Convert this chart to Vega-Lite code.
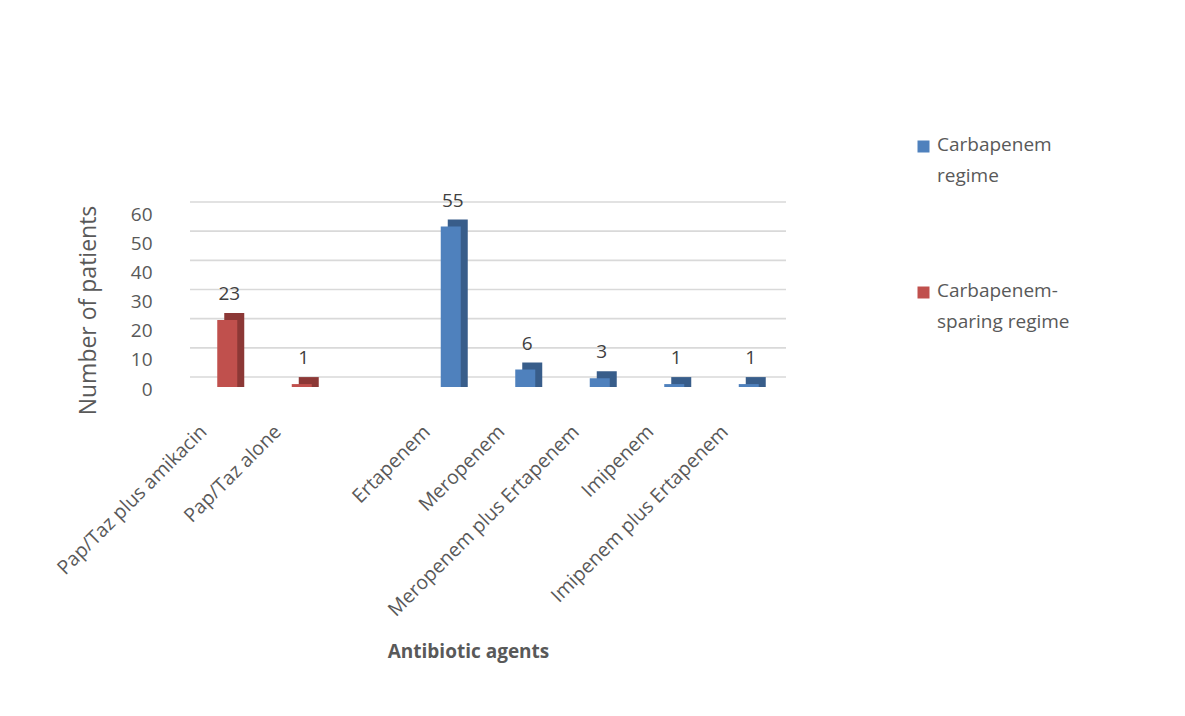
{
  "$schema": "https://vega.github.io/schema/vega-lite/v6.json",
  "width": 596,
  "height": 175,
  "autosize": {"type": "none"},
  "padding": {"left": 190, "top": 212, "right": 399, "bottom": 329},
  "background": "white",
  "config": {
    "view": {"stroke": null},
    "font": "Open Sans",
    "axis": {"labelFont": "Open Sans", "titleFont": "Open Sans", "labelColor": "#595959", "titleColor": "#595959"},
    "axisY": {"labelOverlap": false, "tickCount": 7},
    "legend": {"labelFont": "Open Sans"}
  },
  "datasets": {
    "agents": [
      {"agent": "Pap/Taz plus amikacin", "regime": "Carbapenem-sparing regime", "patients": 23},
      {"agent": "Pap/Taz alone", "regime": "Carbapenem-sparing regime", "patients": 1},
      {"agent": "Ertapenem", "regime": "Carbapenem regime", "patients": 55},
      {"agent": "Meropenem", "regime": "Carbapenem regime", "patients": 6},
      {"agent": "Meropenem plus Ertapenem", "regime": "Carbapenem regime", "patients": 3},
      {"agent": "Imipenem", "regime": "Carbapenem regime", "patients": 1},
      {"agent": "Imipenem plus Ertapenem", "regime": "Carbapenem regime", "patients": 1}
    ],
    "gridlines": [
      {"level": 0}, {"level": 10}, {"level": 20}, {"level": 30},
      {"level": 40}, {"level": 50}, {"level": 60}
    ]
  },
  "layer": [
    {
      "data": {"name": "gridlines"},
      "mark": {"type": "rule", "color": "#D9D9D9", "strokeWidth": 1.6, "yOffset": -10},
      "encoding": {
        "y": {
          "field": "level", "type": "quantitative", "title": "Number of patients",
          "scale": {"domain": [0, 60]},
          "axis": {
            "titleFontSize": 23, "titleFontWeight": "normal",
            "titleX": -102, "titleY": 98, "titleAlign": "center", "titleBaseline": "middle",
            "labelFontSize": 19, "labelPadding": 38, "labelOffset": 2, "labelOverlap": false,
            "values": [0, 10, 20, 30, 40, 50, 60], "tickCount": 7,
            "ticks": false, "domain": false, "grid": false
          }
        }
      }
    },
    {
      "data": {"name": "agents"},
      "mark": {"type": "bar", "width": 20, "xOffset": 7, "yOffset": -7},
      "encoding": {
        "x": {
          "field": "agent", "type": "nominal", "title": "Antibiotic agents",
          "scale": {"domain": ["Pap/Taz plus amikacin", "Pap/Taz alone", " ", "Ertapenem", "Meropenem", "Meropenem plus Ertapenem", "Imipenem", "Imipenem plus Ertapenem"]},
          "axis": {
            "titleFontSize": 19, "titleFontWeight": "bold",
            "titleX": 278, "titleY": 264, "titleBaseline": "middle",
            "labelAngle": -45, "labelFontSize": 19.5, "labelPadding": 35, "labelOffset": -30,
            "ticks": false, "domain": false, "labelLimit": 400
          }
        },
        "y": {"field": "patients", "type": "quantitative", "title": "Number of patients"},
        "y2": {"datum": 0},
        "color": {
          "condition": {"test": "datum.regime === 'Carbapenem regime'", "value": "#385D8A"},
          "value": "#8C3836"
        }
      }
    },
    {
      "data": {"name": "agents"},
      "mark": {"type": "bar", "width": 20},
      "encoding": {
        "x": {"field": "agent", "type": "nominal", "title": "Antibiotic agents"},
        "y": {"field": "patients", "type": "quantitative", "title": "Number of patients"},
        "color": {
          "field": "regime", "type": "nominal",
          "scale": {"domain": ["Carbapenem regime", "Carbapenem-sparing regime"], "range": ["#4F81BD", "#C0504D"]},
          "legend": {
            "title": null, "orient": "none", "legendX": 724, "legendY": -75,
            "symbolType": "square", "symbolSize": 144, "labelFontSize": 19, "labelColor": "#595959",
            "labelOffset": 4, "rowPadding": 95, "labelBaseline": "top",
            "labelExpr": "datum.label === 'Carbapenem regime' ? ['Carbapenem', 'regime'] : ['Carbapenem-', 'sparing regime']",
            "encode": {"labels": {"update": {"lineHeight": {"value": 31}, "dy": {"value": -11}}}}
          }
        }
      }
    },
    {
      "data": {"name": "agents"},
      "mark": {"type": "text", "fontSize": 19, "color": "#404040", "baseline": "alphabetic", "dy": -20, "dx": 2},
      "encoding": {
        "x": {"field": "agent", "type": "nominal", "title": "Antibiotic agents"},
        "y": {"field": "patients", "type": "quantitative", "title": "Number of patients"},
        "text": {"field": "patients", "type": "quantitative"}
      }
    }
  ]
}
